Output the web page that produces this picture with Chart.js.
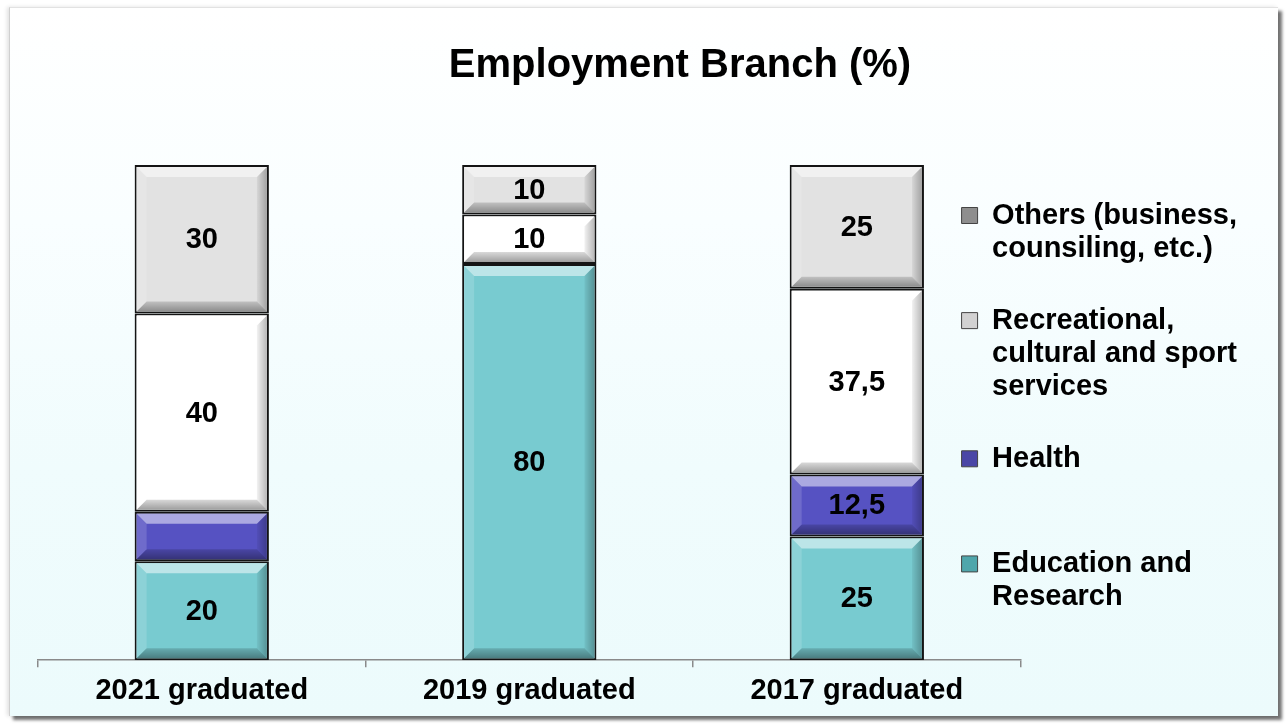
<!DOCTYPE html>
<html>
<head>
<meta charset="utf-8">
<script src="https://cdn.jsdelivr.net/npm/chart.js@4"></script>
<style>
  html, body { margin: 0; padding: 0; background: #ffffff; width: 1288px; height: 725px; overflow: hidden; }
  #frame {
    position: absolute; left: 9px; top: 7px; width: 1268px; height: 708px;
    background: linear-gradient(to bottom, #ffffff 0%, #f9feff 30%, #f0fcfd 65%, #ecfbfc 100%);
    border-top: 1px solid #e2e2e2; border-left: 1px solid #d0d0d0;
    box-shadow: 4px 4px 3px rgba(0,0,0,0.55), -2px 0 4px rgba(0,0,0,0.12);
  }
  #c { position: absolute; left: 0; top: 0; }
</style>
</head>
<body>
<div id="frame"></div>
<canvas id="c" width="1288" height="725"></canvas>
<script>
// ---- data ----
const categories = ['2021 graduated', '2019 graduated', '2017 graduated'];
const seriesNames = ['Education and Research', 'Health', 'Recreational, cultural and sport services', 'Others (business, counsiling, etc.)'];
const education = [20, 80, 25];
const health = [10, 0, 12.5];
const recreational = [40, 10, 37.5];
const others = [30, 10, 25];
const legendLines = [
  ['Education and', 'Research'],
  ['Health', ''],
  ['Recreational,', 'cultural and sport', 'services'],
  ['Others (business,', 'counsiling, etc.)']
];
const unlabeled = ['Health|2021 graduated'];

// ---- styles ----
const fills = ['#78cbd0', '#5652c2', '#ffffff', '#e2e2e2'];
const boxFills = ['#4fa6ab', '#4a46a6', '#d2d2d2', '#8e8e8e'];

const bevel = {
  id: 'bevel',
  afterDatasetsDraw(chart) {
    const ctx = chart.ctx;
    chart.data.datasets.forEach((ds, di) => {
      const meta = chart.getDatasetMeta(di);
      meta.data.forEach((el, i) => {
        const p = el.getProps(['x', 'y', 'base', 'width'], true);
        const bw = 2;
        const l = p.x - p.width / 2 + bw, r = p.x + p.width / 2 - bw;
        const t = Math.min(p.y, p.base) + bw, b = Math.max(p.y, p.base) - bw;
        const h = b - t;
        if (h < 3) return;
        const s = Math.min(10, h / 3);
        const poly = (pts, col) => {
          ctx.beginPath();
          ctx.moveTo(pts[0][0], pts[0][1]);
          for (let k = 1; k < pts.length; k++) ctx.lineTo(pts[k][0], pts[k][1]);
          ctx.closePath();
          ctx.fillStyle = col;
          ctx.fill();
        };
        ctx.save();
        poly([[l, t], [r, t], [r - s, t + s], [l + s, t + s]], 'rgba(255,255,255,0.5)');
        poly([[l, t], [l + s, t + s], [l + s, b - s], [l, b]], 'rgba(255,255,255,0.15)');
        let g = ctx.createLinearGradient(r - s, 0, r, 0);
        g.addColorStop(0, 'rgba(0,0,0,0.05)');
        g.addColorStop(1, 'rgba(0,0,0,0.28)');
        poly([[r, t], [r, b], [r - s, b - s], [r - s, t + s]], g);
        g = ctx.createLinearGradient(0, b - s, 0, b);
        g.addColorStop(0, 'rgba(0,0,0,0.15)');
        g.addColorStop(1, 'rgba(0,0,0,0.38)');
        poly([[l, b], [r, b], [r - s, b - s], [l + s, b - s]], g);
        ctx.restore();
      });
    });
    // value labels
    ctx.save();
    ctx.font = 'bold 29px "Liberation Sans", Arial, sans-serif';
    ctx.fillStyle = '#000';
    ctx.textAlign = 'center';
    ctx.textBaseline = 'middle';
    chart.data.datasets.forEach((ds, di) => {
      const meta = chart.getDatasetMeta(di);
      meta.data.forEach((el, i) => {
        const v = ds.data[i];
        if (!v) return;
        if (unlabeled.includes(ds.label.split(' ')[0].replace(',', '') + '|' + categories[i])) return;
        const p = el.getProps(['x', 'y', 'base'], true);
        ctx.fillText(String(v).replace('.', ','), p.x, (p.y + p.base) / 2 + 1);
      });
    });
    ctx.restore();
  }
};

const nudge = {
  id: 'nudge',
  afterLayout(chart) {
    const lg = chart.legend;
    const dx = (chart.chartArea.right - 59 - lg.options.labels.padding) - lg.left;
    lg.left += dx; lg.right += dx;
    const dy = 201 - (lg.top + (lg.bottom - lg.top) / 2 - lg.columnSizes[0].height / 2 + lg.options.labels.padding / 2);
    lg.top += dy; lg.bottom += dy;
    const t = chart.titleBlock;
    const tx = 680 - (t.left + t.right) / 2;
    t.left += tx; t.right += tx;
  }
};

const makeDs = (label, data, color) => ({
  label, data,
  backgroundColor: color,
  borderColor: '#141414',
  borderWidth: 2,
  borderSkipped: false,
  barPercentage: 0.41,
  categoryPercentage: 1.0
});

new Chart(document.getElementById('c'), {
  type: 'bar',
  data: {
    labels: categories,
    datasets: [
      makeDs(seriesNames[0], education, fills[0]),
      makeDs(seriesNames[1], health, fills[1]),
      makeDs(seriesNames[2], recreational, fills[2]),
      makeDs(seriesNames[3], others, fills[3])
    ]
  },
  options: {
    responsive: false,
    animation: false,
    devicePixelRatio: 1,
    layout: { padding: { left: 38, right: -57, top: 0, bottom: 11 } },
    plugins: {
      title: {
        display: true,
        text: 'Employment Branch (%)',
        color: '#000',
        font: { family: '"Liberation Sans", Arial, sans-serif', size: 40, weight: 'bold', lineHeight: 1.2 },
        padding: { top: 42, bottom: 75 }
      },
      legend: {
        position: 'right',
        align: 'center',
        reverse: true,
        labels: {
          color: '#000',
          boxWidth: 16,
          boxHeight: 16,
          padding: 39,
          font: { family: '"Liberation Sans", Arial, sans-serif', size: 29, weight: 'bold', lineHeight: 1.14 },
          generateLabels(chart) {
            return chart.data.datasets.map((ds, i) => ({
              text: legendLines[i],
              fillStyle: boxFills[i],
              strokeStyle: '#444',
              lineWidth: 1,
              hidden: false,
              datasetIndex: i
            }));
          }
        }
      },
      tooltip: { enabled: false }
    },
    scales: {
      x: {
        stacked: true,
        offset: true,
        grid: { display: true, drawOnChartArea: false, drawTicks: true, tickLength: 7, color: '#8a8a8a', lineWidth: 1.5, offset: true },
        border: { display: true, color: '#8a8a8a', width: 1.5 },
        ticks: {
          color: '#000',
          padding: 6,
          font: { family: '"Liberation Sans", Arial, sans-serif', size: 29, weight: 'bold' }
        }
      },
      y: {
        stacked: true,
        display: false,
        min: 0,
        max: 100
      }
    }
  },
  plugins: [bevel, nudge]
});
</script>
</body>
</html>
